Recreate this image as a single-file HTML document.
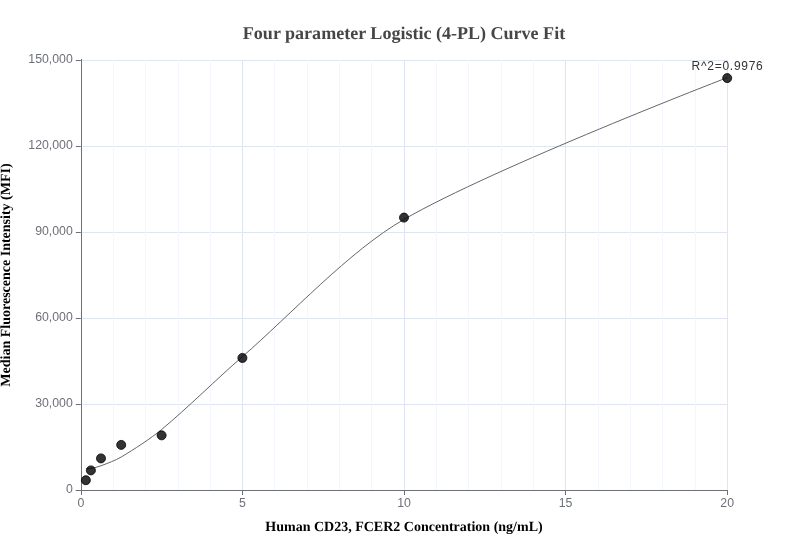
<!DOCTYPE html>
<html><head><meta charset="utf-8"><style>
html,body{margin:0;padding:0;background:#fff;}
svg{display:block;}
.lab{font-family:"Liberation Sans",Arial,sans-serif;font-size:12.3px;fill:#6E7079;}
.ttl{font-family:"Liberation Serif","Times New Roman",serif;font-weight:bold;text-rendering:geometricPrecision;}
</style></head><body>
<svg width="808" height="560" viewBox="0 0 808 560">
<rect width="808" height="560" fill="#fff"/>
<g stroke-width="1" fill="none">
<line x1="80.8" y1="404.5" x2="727.2" y2="404.5" stroke="#E0E6F1"/>
<line x1="80.8" y1="318.5" x2="727.2" y2="318.5" stroke="#E0E6F1"/>
<line x1="80.8" y1="232.5" x2="727.2" y2="232.5" stroke="#E0E6F1"/>
<line x1="80.8" y1="146.5" x2="727.2" y2="146.5" stroke="#E0E6F1"/>
<line x1="80.8" y1="60.5" x2="727.2" y2="60.5" stroke="#E0E6F1"/>
<line x1="242.5" y1="60" x2="242.5" y2="490" stroke="#E0E6F1"/>
<line x1="404.5" y1="60" x2="404.5" y2="490" stroke="#E0E6F1"/>
<line x1="565.5" y1="60" x2="565.5" y2="490" stroke="#E0E6F1"/>
<line x1="727.5" y1="60" x2="727.5" y2="490" stroke="#E0E6F1"/>
<line x1="113.5" y1="60" x2="113.5" y2="490" stroke="#F4F7FD"/>
<line x1="145.5" y1="60" x2="145.5" y2="490" stroke="#F4F7FD"/>
<line x1="178.5" y1="60" x2="178.5" y2="490" stroke="#F4F7FD"/>
<line x1="210.5" y1="60" x2="210.5" y2="490" stroke="#F4F7FD"/>
<line x1="274.5" y1="60" x2="274.5" y2="490" stroke="#F4F7FD"/>
<line x1="307.5" y1="60" x2="307.5" y2="490" stroke="#F4F7FD"/>
<line x1="339.5" y1="60" x2="339.5" y2="490" stroke="#F4F7FD"/>
<line x1="371.5" y1="60" x2="371.5" y2="490" stroke="#F4F7FD"/>
<line x1="436.5" y1="60" x2="436.5" y2="490" stroke="#F4F7FD"/>
<line x1="468.5" y1="60" x2="468.5" y2="490" stroke="#F4F7FD"/>
<line x1="501.5" y1="60" x2="501.5" y2="490" stroke="#F4F7FD"/>
<line x1="533.5" y1="60" x2="533.5" y2="490" stroke="#F4F7FD"/>
<line x1="598.5" y1="60" x2="598.5" y2="490" stroke="#F4F7FD"/>
<line x1="630.5" y1="60" x2="630.5" y2="490" stroke="#F4F7FD"/>
<line x1="662.5" y1="60" x2="662.5" y2="490" stroke="#F4F7FD"/>
<line x1="695.5" y1="60" x2="695.5" y2="490" stroke="#F4F7FD"/>
<line x1="81.5" y1="59" x2="81.5" y2="495" stroke="#6E7079"/>
<line x1="75.8" y1="490.5" x2="727.2" y2="490.5" stroke="#6E7079"/>
<line x1="75.8" y1="490.5" x2="80.8" y2="490.5" stroke="#6E7079"/>
<line x1="75.8" y1="404.5" x2="80.8" y2="404.5" stroke="#6E7079"/>
<line x1="75.8" y1="318.5" x2="80.8" y2="318.5" stroke="#6E7079"/>
<line x1="75.8" y1="232.5" x2="80.8" y2="232.5" stroke="#6E7079"/>
<line x1="75.8" y1="146.5" x2="80.8" y2="146.5" stroke="#6E7079"/>
<line x1="75.8" y1="60.5" x2="80.8" y2="60.5" stroke="#6E7079"/>
<line x1="81.5" y1="490" x2="81.5" y2="495" stroke="#6E7079"/>
<line x1="242.5" y1="490" x2="242.5" y2="495" stroke="#6E7079"/>
<line x1="404.5" y1="490" x2="404.5" y2="495" stroke="#6E7079"/>
<line x1="565.5" y1="490" x2="565.5" y2="495" stroke="#6E7079"/>
<line x1="727.5" y1="490" x2="727.5" y2="495" stroke="#6E7079"/>
</g>
<g class="lab">
<text x="72.8" y="493.1" text-anchor="end">0</text>
<text x="72.8" y="407.1" text-anchor="end">30,000</text>
<text x="72.8" y="321.1" text-anchor="end">60,000</text>
<text x="72.8" y="235.1" text-anchor="end">90,000</text>
<text x="72.8" y="149.1" text-anchor="end">120,000</text>
<text x="72.8" y="63.1" text-anchor="end">150,000</text>
<text x="80.80" y="507" text-anchor="middle">0</text>
<text x="242.40" y="507" text-anchor="middle">5</text>
<text x="404.00" y="507" text-anchor="middle">10</text>
<text x="565.60" y="507" text-anchor="middle">15</text>
<text x="727.20" y="507" text-anchor="middle">20</text>
</g>
<path d="M85.85 468.80 C85.85 468.80 89.42 468.78 90.90 468.49 C93.96 467.88 98.07 466.90 101.00 465.79 C107.16 463.46 115.55 460.41 121.20 457.03 C133.73 449.53 150.33 438.85 161.60 429.51 C186.69 408.73 217.74 378.04 242.40 356.66 C290.46 315.00 349.41 250.81 404.00 219.39 C494.85 167.10 727.20 77.64 727.20 77.64" fill="none" stroke="#666" stroke-width="1"/>
<g fill="#000" stroke="#000" stroke-width="1" opacity="1">
<g opacity="0.8"><circle cx="85.85" cy="480.2" r="4.5" stroke="none"/></g><g opacity="0.8"><circle cx="85.85" cy="480.2" r="4.5" fill="none"/></g>
<g opacity="0.8"><circle cx="90.90" cy="470.4" r="4.5" stroke="none"/></g><g opacity="0.8"><circle cx="90.90" cy="470.4" r="4.5" fill="none"/></g>
<g opacity="0.8"><circle cx="101.00" cy="458.4" r="4.5" stroke="none"/></g><g opacity="0.8"><circle cx="101.00" cy="458.4" r="4.5" fill="none"/></g>
<g opacity="0.8"><circle cx="121.20" cy="444.9" r="4.5" stroke="none"/></g><g opacity="0.8"><circle cx="121.20" cy="444.9" r="4.5" fill="none"/></g>
<g opacity="0.8"><circle cx="161.60" cy="435.35" r="4.5" stroke="none"/></g><g opacity="0.8"><circle cx="161.60" cy="435.35" r="4.5" fill="none"/></g>
<g opacity="0.8"><circle cx="242.40" cy="357.95" r="4.5" stroke="none"/></g><g opacity="0.8"><circle cx="242.40" cy="357.95" r="4.5" fill="none"/></g>
<g opacity="0.8"><circle cx="404.00" cy="217.6" r="4.5" stroke="none"/></g><g opacity="0.8"><circle cx="404.00" cy="217.6" r="4.5" fill="none"/></g>
<g opacity="0.8"><circle cx="727.20" cy="78.1" r="4.5" stroke="none"/></g><g opacity="0.8"><circle cx="727.20" cy="78.1" r="4.5" fill="none"/></g>
</g>
<text class="ttl" x="404" y="39" text-anchor="middle" font-size="18.05" fill="#464646">Four parameter Logistic (4-PL) Curve Fit</text>
<text class="ttl" transform="translate(10.3,275) rotate(-90)" text-anchor="middle" font-size="14" fill="#000">Median Fluorescence Intensity (MFI)</text>
<text class="ttl" x="404" y="530.8" text-anchor="middle" font-size="14" fill="#000">Human CD23, FCER2 Concentration (ng/mL)</text>
<text x="727.2" y="69.8" text-anchor="middle" font-family="Liberation Sans,Arial,sans-serif" font-size="12" fill="#333" textLength="71.2" lengthAdjust="spacing">R^2=0.9976</text>
</svg>
</body></html>
